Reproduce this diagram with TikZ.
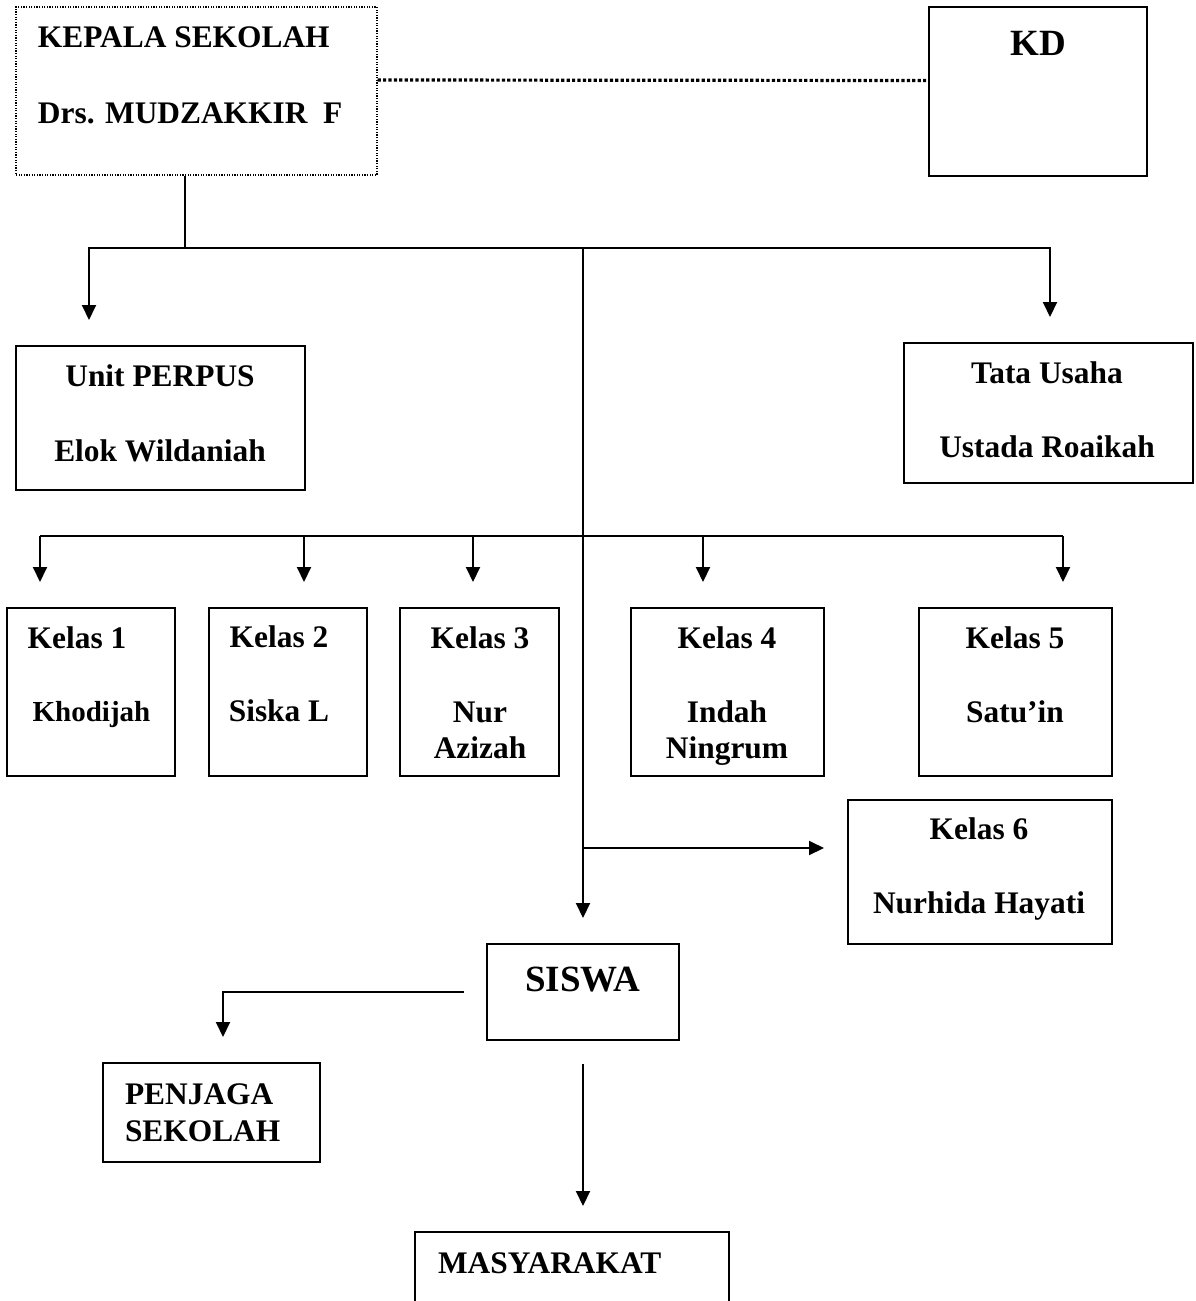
\documentclass[tikz,border=0pt]{standalone}
\usepackage{fontspec}
\setmainfont{Liberation Serif}
\usetikzlibrary{arrows.meta}

\begin{document}
\begin{tikzpicture}[x=0.5pt, y=-0.5pt, line width=1pt,
    box/.style={rectangle, draw, line width=1pt, inner sep=0pt},
    dotbox/.style={rectangle, draw, line width=0.6pt, dash pattern=on 0.6pt off 0.7pt, inner sep=0pt},
    dotline/.style={line width=1.6pt, dash pattern=on 1.6pt off 1.1pt},
    arr/.style={-{Triangle[length=7.5pt,width=7pt]}, shorten >=12.5pt},
    txt/.style={font=\bfseries\fontsize{15.7}{18}\selectfont, inner sep=0pt, anchor=base},
    small/.style={font=\bfseries\fontsize{14.5}{17}\selectfont, inner sep=0pt, anchor=base},
    big/.style={font=\bfseries\fontsize{18.5}{22}\selectfont, inner sep=0pt, anchor=base}]

    \clip (0,0) rectangle (1195,1301);

    % boxes
    \node[dotbox, minimum width=180.5pt, minimum height=84pt] at (196.5,91) (kepala) {};
    \node[box, minimum width=109pt, minimum height=84.5pt] at (1038,91.5) (kd) {};
    \node[box, minimum width=144.5pt, minimum height=72pt] at (160.5,418) (perpus) {};
    \node[box, minimum width=144.5pt, minimum height=70pt] at (1048.5,413) (tu) {};
    \node[box, minimum width=84pt, minimum height=84pt] at (91,692) (k1) {};
    \node[box, minimum width=79pt, minimum height=84pt] at (288,692) (k2) {};
    \node[box, minimum width=79.5pt, minimum height=84pt] at (479.5,692) (k3) {};
    \node[box, minimum width=96.5pt, minimum height=84pt] at (727.5,692) (k4) {};
    \node[box, minimum width=96.5pt, minimum height=84pt] at (1015.5,692) (k5) {};
    \node[box, minimum width=132pt, minimum height=72pt] at (980,872) (k6) {};
    \node[box, minimum width=96pt, minimum height=48pt] at (583,992) (siswa) {};
    \node[box, minimum width=108.5pt, minimum height=49.5pt] at (211.5,1112.5) (penjaga) {};
    \node[box, minimum width=157pt, minimum height=44pt] at (572,1276) (masy) {};

    % texts
    \node[txt, anchor=base west] at (37,47) (kepala1) {KEPALA SEKOLAH};
    \node[txt, anchor=base west] at (37,123) (kepala2) {Drs. MUDZAKKIR\ \ F};
    \node[big] at (1038,55) (kd1) {KD};
    \node[txt] at (160,386) (perpus1) {Unit PERPUS};
    \node[txt] at (160,461) (perpus2) {Elok Wildaniah};
    \node[txt] at (1047,383) (tu1) {Tata Usaha};
    \node[txt] at (1047,457) (tu2) {Ustada Roaikah};
    \node[txt] at (77,648) (k1a) {Kelas 1};
    \node[small] at (91.5,721) (k1b) {Khodijah};
    \node[txt] at (279,647) (k2a) {Kelas 2};
    \node[txt] at (279,721) (k2b) {Siska L};
    \node[txt] at (480,648) (k3a) {Kelas 3};
    \node[txt] at (480,722) (k3b) {Nur};
    \node[txt] at (480,758) (k3c) {Azizah};
    \node[txt] at (727,648) (k4a) {Kelas 4};
    \node[txt] at (727,722) (k4b) {Indah};
    \node[txt] at (727,758) (k4c) {Ningrum};
    \node[txt] at (1015,648) (k5a) {Kelas 5};
    \node[txt] at (1015,722) (k5b) {Satu’in};
    \node[txt] at (979,839) (k6a) {Kelas 6};
    \node[txt] at (979,913) (k6b) {Nurhida Hayati};
    \node[big] at (583,991) (siswa1) {SISWA};
    \node[txt, anchor=base west] at (124,1104) (penjaga1) {PENJAGA};
    \node[txt, anchor=base west] at (124,1141) (penjaga2) {SEKOLAH};
    \node[txt, anchor=base west] at (437,1273) (masy1) {MASYARAKAT};

    % junctions
    \coordinate (j1) at (185,248);
    \coordinate (a1) at (89,248);
    \coordinate (a2) at (1050,248);
    \coordinate (t1) at (583,248);
    \coordinate (t3) at (583,848);
    \coordinate (h1) at (40,536);
    \coordinate (h2) at (304,536);
    \coordinate (h3) at (473,536);
    \coordinate (h4) at (703,536);
    \coordinate (h5) at (1063,536);
    \coordinate (pj) at (223,992);

    % connectors
    \draw[dotline] ([yshift=5.5pt]kepala.east) -- ([yshift=5.5pt]kd.west);
    \draw (j1 |- kepala.south) -- (j1);
    \draw[arr] (j1) -- (a1) -- (a1 |- perpus.north);
    \draw[arr] (j1) -- (a2) -- (a2 |- tu.north);
    \draw[arr] (t1) -- (siswa.north);
    \draw (h1) -- (h5);
    \draw[arr] (h1) -- (h1 |- k1.north);
    \draw[arr] (h2) -- (h2 |- k2.north);
    \draw[arr] (h3) -- (h3 |- k3.north);
    \draw[arr] (h4) -- (h4 |- k4.north);
    \draw[arr] (h5) -- (h5 |- k5.north);
    \draw[arr, shorten >=11.5pt] (t3) -- (t3 -| k6.west);
    \draw[arr, shorten <=11pt] (siswa.west) -- (pj) -- (pj |- penjaga.north);
    \draw[arr, shorten <=11.5pt] (siswa.south) -- (siswa.south |- masy.north);
\end{tikzpicture}
\end{document}
